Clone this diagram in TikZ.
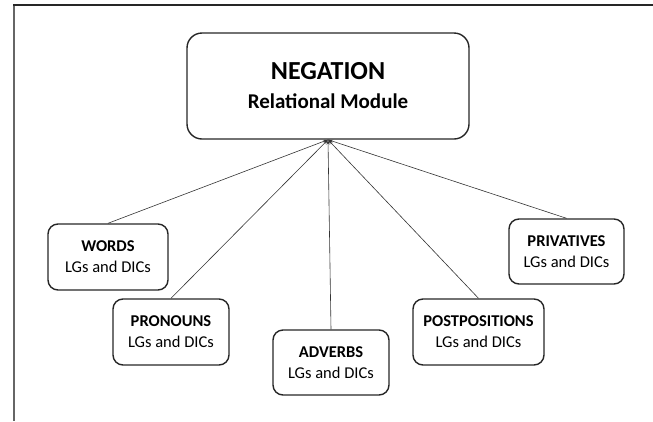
\documentclass[tikz,border=0pt]{standalone}
\usepackage{fontspec}
\setmainfont{Carlito}
\usetikzlibrary{arrows.meta}

\tikzset{every picture/.style={line width=0.75pt}}
\tikzset{
  modulebox/.style={draw=black!85, line width=1.4pt, rounded corners=15pt, align=center,
    minimum width=282pt, minimum height=106pt, inner sep=0pt,
    font=\fontsize{21}{29}\selectfont\bfseries},
  lgbox/.style={draw=black!85, line width=1.4pt, rounded corners=10pt, align=center,
    minimum height=66pt, inner sep=0pt, font=\fontsize{16.5}{21}\selectfont},
  feed/.style={draw=black!80, line width=0.6pt, -{Stealth[length=5pt,width=3pt]}}
}

\begin{document}
\begin{tikzpicture}[x=1pt,y=1pt,yscale=-1,xscale=1]
\useasboundingbox (0,0) rectangle (653,421);

%Frame
\draw [color=black!60, line width=2pt] (14,5) -- (14,421) ;
\draw [color=black!85, line width=1.2pt] (13,5) -- (653,5) ;

% Main module
\node [modulebox] (neg) at (328,86) {{\fontsize{26}{29}\selectfont NEGATION}\\Relational Module};

% Lexical boxes
\node [lgbox, minimum width=120pt] (words) at (108,257) {\textbf{WORDS}\\LGs and DICs};
\node [lgbox, minimum width=116pt] (pronouns) at (171,332) {\textbf{PRONOUNS}\\LGs and DICs};
\node [lgbox, minimum width=116pt, minimum height=65pt] (adverbs) at (331,362.5) {\textbf{ADVERBS}\\LGs and DICs};
\node [lgbox, minimum width=131pt] (postpositions) at (478.5,332) {\textbf{POSTPOSITIONS}\\LGs and DICs};
\node [lgbox, minimum width=115pt, minimum height=65pt] (privatives) at (566.5,251.5) {\textbf{PRIVATIVES}\\LGs and DICs};

% Connectors
\draw [feed] (words.north) -- (neg.south) ;
\draw [feed] (pronouns.north) -- (neg.south) ;
\draw [feed] (adverbs.north) -- (neg.south) ;
\draw [feed] (postpositions.north) -- (neg.south) ;
\draw [feed] (privatives.north) -- (neg.south) ;

\end{tikzpicture}
\end{document}
